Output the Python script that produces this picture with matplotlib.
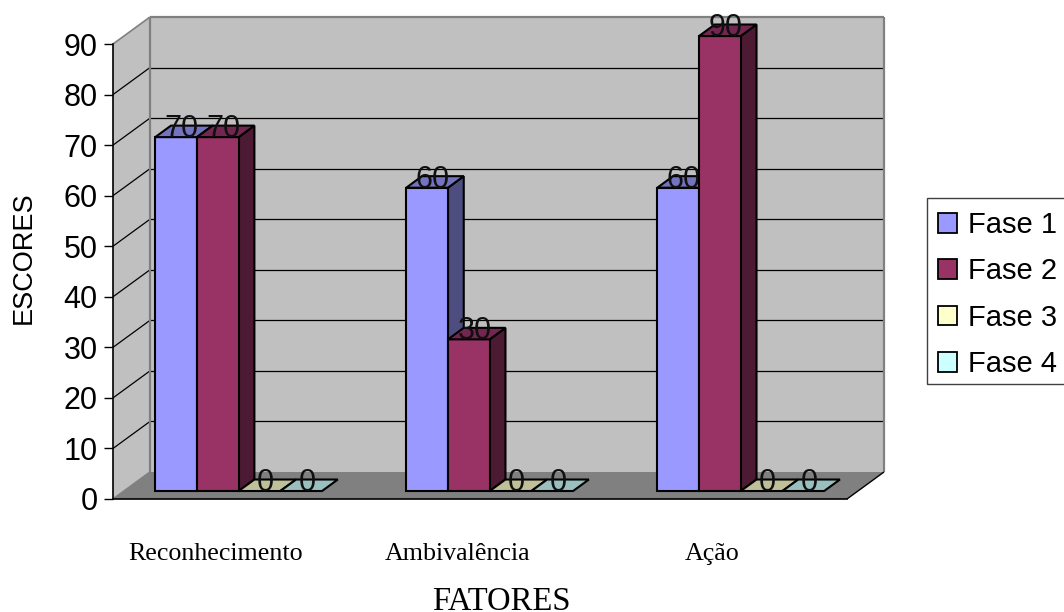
import numpy as np
import matplotlib
matplotlib.use("Agg")
import matplotlib.pyplot as plt
from matplotlib.patches import Patch, Rectangle

plt.rcParams['font.family'] = ['Liberation Sans', 'DejaVu Sans']

# Scores per factor and phase
categories = ["Reconhecimento", "Ambivalência", "Ação"]
series_names = ["Fase 1", "Fase 2", "Fase 3", "Fase 4"]
fase1 = [70, 60, 60]
fase2 = [70, 30, 90]
fase3 = [0, 0, 0]
fase4 = [0, 0, 0]
y_ticks = [0, 10, 20, 30, 40, 50, 60, 70, 80, 90]

front_colors = ['#9999FF', '#993366', '#FFFFCC', '#CCFFFF']
top_colors = ['#7373BF', '#732650', '#BFBF99', '#99BFBF']
side_colors = ['#4D4D80', '#4D1A33', '#80806A', '#6A8080']

# Oblique projection: how far the back of the box is shifted, in data units
DEPTH_X = 0.887
DEPTH_Y = 5.34
BAR_FRONT = 0.296
BAR_BACK = 0.722
GROUP_START = 0.75
GROUP_STEP = 6.02
X_MAX = 17.6
Y_MAX = 90


def project(x, y, d):
    return x + d * DEPTH_X, y + d * DEPTH_Y


def face(ax, corners, color, edge='none', lw=0.0, z=1):
    pts = [project(*c) for c in corners]
    xs = [p[0] for p in pts]
    ys = [p[1] for p in pts]
    ax.fill(xs, ys, facecolor=color, edgecolor=edge, linewidth=lw, zorder=z,
            clip_on=False, joinstyle='miter')


def line3d(ax, a, b, color, lw, z=2):
    pa, pb = project(*a), project(*b)
    ax.plot([pa[0], pb[0]], [pa[1], pb[1]], color=color, lw=lw, zorder=z,
            clip_on=False, solid_capstyle='butt')


def draw_box(ax):
    # Walls and floor
    face(ax, [(0, 0, 0), (0, 0, 1), (0, Y_MAX, 1), (0, Y_MAX, 0)], '#C0C0C0')
    face(ax, [(0, 0, 1), (X_MAX, 0, 1), (X_MAX, Y_MAX, 1), (0, Y_MAX, 1)], '#C0C0C0')
    face(ax, [(0, 0, 0), (X_MAX, 0, 0), (X_MAX, 0, 1), (0, 0, 1)], '#808080')

    # Gridlines run along the left wall and across the back wall
    for v in y_ticks[1:-1]:
        line3d(ax, (0, v, 0), (0, v, 1), 'black', 0.9)
        line3d(ax, (0, v, 1), (X_MAX, v, 1), 'black', 0.9)

    # Wall borders
    line3d(ax, (0, 0, 1), (0, Y_MAX, 1), '#808080', 1.6)
    line3d(ax, (0, Y_MAX, 1), (X_MAX, Y_MAX, 1), '#808080', 1.6)
    line3d(ax, (X_MAX, 0, 1), (X_MAX, Y_MAX, 1), '#808080', 1.6)
    line3d(ax, (0, Y_MAX, 0), (0, Y_MAX, 1), '#808080', 1.2)
    line3d(ax, (0, 0, 0), (0, 0, 1), '#808080', 1.2)
    line3d(ax, (X_MAX, 0, 0), (X_MAX, 0, 1), 'black', 1.0, z=3)


def draw_bar(ax, x, value, idx, z):
    x1 = x + 1
    front = [(x, 0, BAR_FRONT), (x1, 0, BAR_FRONT), (x1, value, BAR_FRONT), (x, value, BAR_FRONT)]
    top = [(x, value, BAR_FRONT), (x1, value, BAR_FRONT), (x1, value, BAR_BACK), (x, value, BAR_BACK)]
    side = [(x1, 0, BAR_FRONT), (x1, 0, BAR_BACK), (x1, value, BAR_BACK), (x1, value, BAR_FRONT)]
    if value > 0:
        face(ax, side, side_colors[idx], 'black', 1.5, z)
        face(ax, front, front_colors[idx], 'black', 1.5, z)
    face(ax, top, top_colors[idx], 'black', 1.5, z)
    lx, ly = project(x + 0.64, value, BAR_FRONT)
    ax.text(lx, ly, str(value), ha='center', va='baseline',
            fontsize=22, color='#101010', zorder=z, clip_on=False)


fig = plt.figure(figsize=(10.64, 6.12), dpi=100)
ax = fig.add_axes([113 / 1064, (612 - 499) / 612, 734 / 1064, 455 / 612])
ax.set_xlim(0, X_MAX)
ax.set_ylim(0, Y_MAX)
ax.patch.set_visible(False)

draw_box(ax)

all_series = [fase1, fase2, fase3, fase4]
z = 5
for g in range(len(categories)):
    gx = GROUP_START + GROUP_STEP * g
    for s, values in enumerate(all_series):
        draw_bar(ax, gx + s, values[g], s, z)
        z += 1

for name in ['top', 'right']:
    ax.spines[name].set_visible(False)
for name in ['left', 'bottom']:
    ax.spines[name].set_linewidth(1.2)
    ax.spines[name].set_zorder(4)

ax.set_yticks(y_ticks)
ax.tick_params(axis='y', labelsize=22, length=6.5, width=1.0, pad=4.5)
ax.set_xticks([2.46, 8.26, 14.37])
ax.set_xticklabels(categories, fontsize=18.7, family=['Liberation Serif'])
ax.tick_params(axis='x', length=0, pad=32)

ax.set_ylabel("ESCORES", fontsize=19.5)
ax.yaxis.set_label_coords((37 - 113) / 734, (499 - 258) / 455)
ax.set_xlabel("FATORES", fontsize=23.5, family=['Liberation Serif'], va='baseline')
ax.xaxis.set_label_coords((501 - 113) / 734, (499 - 610) / 455)

# Legend box runs past the right edge of the figure
fig.add_artist(Rectangle((927 / 1064, 1 - 384 / 612), 150 / 1064, 186 / 612,
                         transform=fig.transFigure, facecolor='white',
                         edgecolor='#404040', linewidth=1.0))
handles = [Patch(facecolor=c, edgecolor='black', linewidth=1.3) for c in front_colors]
leg = fig.legend(handles, series_names, loc='upper left',
                 bbox_to_anchor=(927 / 1064, 1 - 200 / 612), fontsize=21,
                 frameon=False, handlelength=0.66, handleheight=0.66,
                 handletextpad=0.36, labelspacing=0.63, borderpad=0.38,
                 borderaxespad=0)

fig.savefig("out.png", dpi=100)
